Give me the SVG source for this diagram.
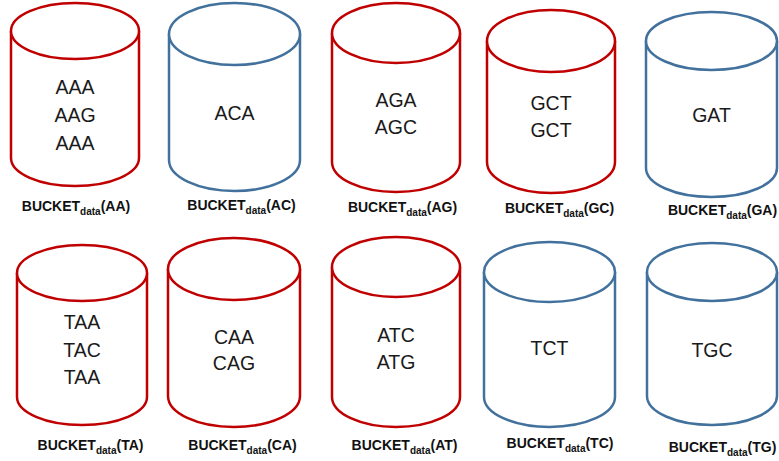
<svg xmlns="http://www.w3.org/2000/svg" width="779" height="461" viewBox="0 0 779 461">
<style>
.red{fill:#fff;stroke:#C00000;stroke-width:2.5}
.blue{fill:#fff;stroke:#41719C;stroke-width:2.5}
.t{font-family:"Liberation Sans",Arial,sans-serif;font-size:19.5px;fill:#1a1a1a;text-anchor:middle}
.l{font-family:"Liberation Sans",Arial,sans-serif;font-size:14px;font-weight:bold;fill:#111;text-anchor:middle}
.s{font-size:10px}
</style>
<rect width="779" height="461" fill="#fff"/>
<g id="connectors"></g>
<g id="AA">
<path class="red" d="M11,31 L11,158 A64,28 0 0 0 139,158 L139,31"/><ellipse class="red" cx="75" cy="31" rx="64" ry="28"/>
<text class="t" x="75" y="94">AAA</text><text class="t" x="75" y="122">AAG</text><text class="t" x="75" y="150">AAA</text>
<text class="l" x="76" y="211">BUCKET<tspan class="s" dy="4">data</tspan><tspan dy="-4">(AA)</tspan></text>
</g>
<g id="AC">
<path class="blue" d="M169,34 L169,160 A65.5,31 0 0 0 300,160 L300,34"/><ellipse class="blue" cx="234.5" cy="34" rx="65.5" ry="31"/>
<text class="t" x="234.5" y="120">ACA</text>
<text class="l" x="241.5" y="210">BUCKET<tspan class="s" dy="4">data</tspan><tspan dy="-4">(AC)</tspan></text>
</g>
<g id="AG">
<path class="red" d="M332,33 L332,162 A64,30 0 0 0 460,162 L460,33"/><ellipse class="red" cx="396" cy="33" rx="64" ry="30"/>
<text class="t" x="396" y="107">AGA</text><text class="t" x="396" y="134">AGC</text>
<text class="l" x="402.5" y="212">BUCKET<tspan class="s" dy="4">data</tspan><tspan dy="-4">(AG)</tspan></text>
</g>
<g id="GC">
<path class="red" d="M487,41 L487,162 A64,31 0 0 0 615,162 L615,41"/><ellipse class="red" cx="551" cy="41" rx="64" ry="31"/>
<text class="t" x="551" y="110">GCT</text><text class="t" x="551" y="137">GCT</text>
<text class="l" x="559.5" y="213">BUCKET<tspan class="s" dy="4">data</tspan><tspan dy="-4">(GC)</tspan></text>
</g>
<g id="GA">
<path class="blue" d="M646,41 L646,168 A65.5,29 0 0 0 777,168 L777,41"/><ellipse class="blue" cx="711.5" cy="41" rx="65.5" ry="29"/>
<text class="t" x="711.5" y="122">GAT</text>
<text class="l" x="722.5" y="215">BUCKET<tspan class="s" dy="4">data</tspan><tspan dy="-4">(GA)</tspan></text>
</g>
<g id="TA">
<path class="red" d="M17,273 L17,397 A65,28 0 0 0 147,397 L147,273"/><ellipse class="red" cx="82" cy="273" rx="65" ry="28"/>
<text class="t" x="82" y="329">TAA</text><text class="t" x="82" y="357">TAC</text><text class="t" x="82" y="384">TAA</text>
<text class="l" x="90.5" y="450">BUCKET<tspan class="s" dy="4">data</tspan><tspan dy="-4">(TA)</tspan></text>
</g>
<g id="CA">
<path class="red" d="M168,269 L168,396 A66,31 0 0 0 300,396 L300,269"/><ellipse class="red" cx="234" cy="269" rx="66" ry="31"/>
<text class="t" x="234" y="344">CAA</text><text class="t" x="234" y="370">CAG</text>
<text class="l" x="242.5" y="450">BUCKET<tspan class="s" dy="4">data</tspan><tspan dy="-4">(CA)</tspan></text>
</g>
<g id="AT">
<path class="red" d="M332,267 L332,397 A64,30 0 0 0 460,397 L460,267"/><ellipse class="red" cx="396" cy="267" rx="64" ry="30"/>
<text class="t" x="396" y="342">ATC</text><text class="t" x="396" y="369">ATG</text>
<text class="l" x="404.5" y="450">BUCKET<tspan class="s" dy="4">data</tspan><tspan dy="-4">(AT)</tspan></text>
</g>
<g id="TC">
<path class="blue" d="M484,272 L484,397 A65.5,30 0 0 0 615,397 L615,272"/><ellipse class="blue" cx="549.5" cy="272" rx="65.5" ry="30"/>
<text class="t" x="549.5" y="355">TCT</text>
<text class="l" x="560" y="448">BUCKET<tspan class="s" dy="4">data</tspan><tspan dy="-4">(TC)</tspan></text>
</g>
<g id="TG">
<path class="blue" d="M647,272 L647,396 A65,29 0 0 0 777,396 L777,272"/><ellipse class="blue" cx="712" cy="272" rx="65" ry="29"/>
<text class="t" x="712" y="357">TGC</text>
<text class="l" x="722.5" y="452">BUCKET<tspan class="s" dy="4">data</tspan><tspan dy="-4">(TG)</tspan></text>
</g>
</svg>
